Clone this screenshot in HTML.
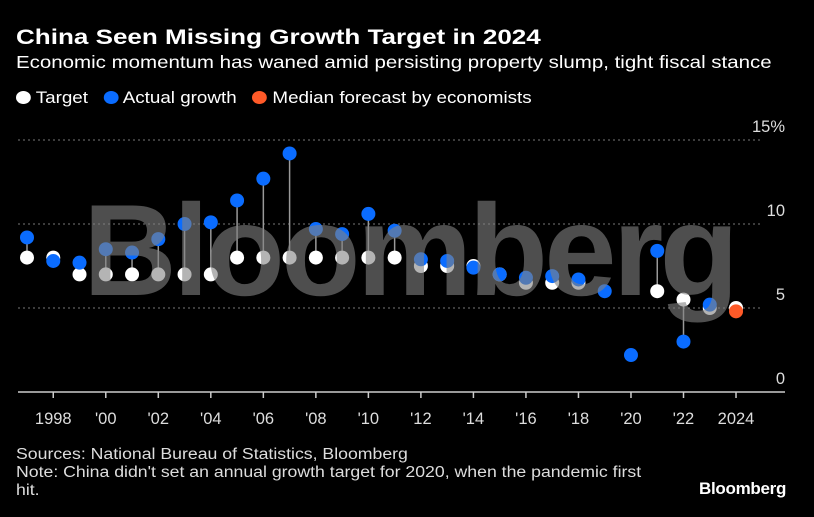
<!DOCTYPE html>
<html><head><meta charset="utf-8"><style>
body{margin:0;background:#000;width:814px;height:517px;overflow:hidden;font-family:"Liberation Sans",sans-serif;color:#fff}
.t{position:absolute;left:16px;white-space:nowrap;transform-origin:left top}
</style></head><body>
<div class="t" style="top:26px;font-size:21px;font-weight:bold;transform:scaleX(1.24)">China Seen Missing Growth Target in 2024</div>
<div class="t" style="top:52px;font-size:17.5px;transform:scaleX(1.17)">Economic momentum has waned amid persisting property slump, tight fiscal stance</div>
<div class="t" style="top:89px;font-size:16.5px;transform:scaleX(1.14)">
<span><span style="display:inline-block;width:13px;height:13px;border-radius:50%;background:#fff;vertical-align:-1px"></span> Target</span>&nbsp;&nbsp;
<span><span style="display:inline-block;width:13px;height:13px;border-radius:50%;background:#0a6cff;vertical-align:-1px"></span> Actual growth</span>&nbsp;&nbsp;
<span><span style="display:inline-block;width:13px;height:13px;border-radius:50%;background:#ff5a28;vertical-align:-1px"></span> Median forecast by economists</span></div>
<svg id="c" width="814" height="517" style="position:absolute;left:0;top:0"></svg>
<div class="t" style="top:446px;font-size:15.5px;line-height:18px;color:#ddd;transform:scaleX(1.14)">Sources: National Bureau of Statistics, Bloomberg<br>Note: China didn't set an annual growth target for 2020, when the pandemic first<br>hit.</div>
<div style="position:absolute;left:699px;top:479px;font-size:17px;font-weight:bold;letter-spacing:-0.3px">Bloomberg</div>
<script>
const years=[1997,1998,1999,2000,2001,2002,2003,2004,2005,2006,2007,2008,2009,2010,2011,2012,2013,2014,2015,2016,2017,2018,2019,2020,2021,2022,2023];
const actual=[9.2,7.8,7.7,8.5,8.3,9.1,10.0,10.1,11.4,12.7,14.2,9.7,9.4,10.6,9.6,7.9,7.8,7.4,7.0,6.8,6.9,6.7,6.0,2.2,8.4,3.0,5.2];
const target=[8,8,7,7,7,7,7,7,8,8,8,8,8,8,8,7.5,7.5,7.5,7,6.5,6.5,6.5,null,null,6,5.5,5];
const forecastYear=2024, forecastVal=4.8, forecastTarget=5;
const yTicks=[0,5,10,15];
const xTicks=[1998,2000,2002,2004,2006,2008,2010,2012,2014,2016,2018,2020,2022,2024];
const X=y=>27+(y-1997)*26.26, Y=v=>392-v*16.8;
const svg=document.getElementById('c'),NS='http://www.w3.org/2000/svg';
function el(t,a,p){const e=document.createElementNS(NS,t);for(const k in a)e.setAttribute(k,a[k]);(p||svg).appendChild(e);return e;}
yTicks.forEach(v=>{
 if(v>0){const g=el('line',{x1:18,x2:762,y1:Y(v),y2:Y(v),stroke:'#777','stroke-dasharray':'2,3'});
 
 }
 const t=el('text',{x:785,y:Y(v)-8,'text-anchor':'end',fill:'#ddd','font-size':16.5});
 t.textContent=v+(v===15?'%':'');
 
 
});
const ax=el('line',{x1:18,x2:785,y1:392,y2:392,stroke:'#ccc','stroke-width':1.5});


xTicks.forEach(y=>{
 el('line',{x1:X(y),x2:X(y),y1:392,y2:398,stroke:'#ccc','stroke-width':1.5});
 const t=el('text',{x:X(y),y:424,'text-anchor':'middle',fill:'#ddd','font-size':16.5});
 t.textContent=(y===1998||y===2024)?String(y):"'"+String(y).slice(2);
 
 
});
years.forEach((y,i)=>{if(target[i]!=null){const l=el('line',{x1:X(y),x2:X(y),y1:Y(target[i]),y2:Y(actual[i]),stroke:'#999','stroke-width':1.5});
 
 }});
years.forEach((y,i)=>{if(target[i]!=null){const c=el('circle',{cx:X(y),cy:Y(target[i]),r:7,fill:'#fff'});
 
 }});
const ft=el('circle',{cx:X(forecastYear),cy:Y(forecastTarget),r:7,fill:'#fff'});


years.forEach((y,i)=>{const c=el('circle',{cx:X(y),cy:Y(actual[i]),r:7,fill:'#0a6cff'});
 
 });
const fc=el('circle',{cx:X(forecastYear),cy:Y(forecastVal),r:7,fill:'#ff5a28'});


const wm=el('text',{x:408,y:295,'text-anchor':'middle','font-size':130,'font-weight':'bold',fill:'rgba(130,130,130,0.6)','letter-spacing':-6,textLength:650});
wm.textContent='Bloomberg';


</script>
</body></html>
